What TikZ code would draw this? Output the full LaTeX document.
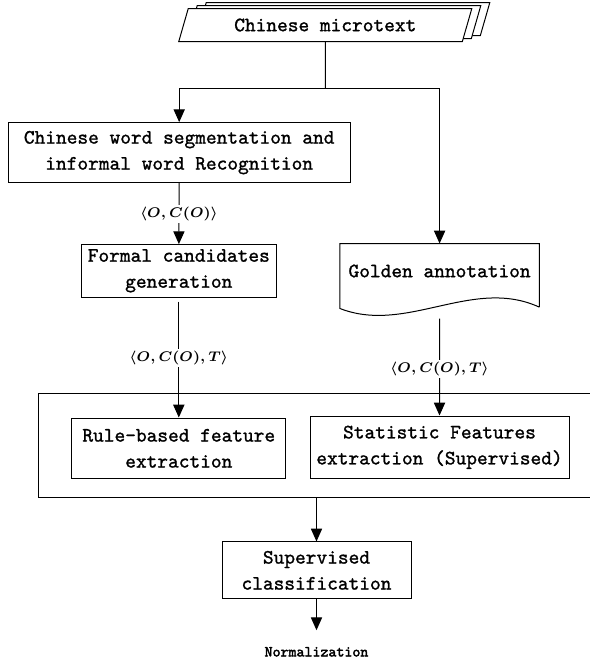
\documentclass[tikz,border=0pt]{standalone}
\usepackage{amsmath}
\usepackage{fontspec}
\usetikzlibrary{arrows.meta,shapes.geometric,shadows,calc}

\newfontfamily\boxfont{lmmono10-regular.otf}[FakeBold=1.2]
\newfontfamily\normfont{lmmono10-regular.otf}[FakeBold=2.5]

\tikzset{
  box/.style={draw, rectangle, align=center, inner sep=0pt,
    font=\boxfont\fontsize{10.2}{13}\selectfont},
  lbl/.style={fill=white, inner sep=1pt, font=\boldmath\fontsize{7.5}{9}\selectfont},
  flow/.style={-{Triangle[length=6.4pt,width=5.6pt]}},
}

\begin{document}
\begin{tikzpicture}[x=0.5pt, y=-0.5pt, line width=0.5pt]
    \useasboundingbox (0,0) rectangle (590,666);
    \node[box, fill=white, trapezium, trapezium left angle=64, trapezium right angle=116,
        trapezium stretches=true, minimum width=147.7pt, minimum height=16.5pt,
        double copy shadow={shadow xshift=4.5pt, shadow yshift=1.5pt}] (src) at (325.3,25) {Chinese microtext};
    \coordinate (split) at (325.3,88.3);
    \node[box, minimum width=170.85pt, minimum height=29.95pt] (seg) at (179.2,152.6) {Chinese word segmentation and\\informal word Recognition};
    \node[box, minimum width=97.75pt, minimum height=26.2pt] (gen) at (178.8,270.8) {Formal candidates\\generation};
    \node[box, draw=none, minimum width=99.15pt, minimum height=27pt] (gold) at (439.6,271) {Golden annotation};
    \draw ($(gold.south east)+(0,8.6)$) -- (gold.north east) -- (gold.north west) -- ($(gold.south west)+(0,10)$)
        .. controls ($(gold.south)+(-33,36)$) and ($(gold.south)+(33,-22)$) .. ($(gold.south east)+(0,8.6)$);
    \node[draw, minimum width=278.6pt, minimum height=52.05pt] (feat) at (317.4,445.65) {};
    \node[box, minimum width=106.85pt, minimum height=30.3pt] (rule) at (178.8,448.3) {Rule-based feature\\extraction};
    \node[box, minimum width=129.5pt, minimum height=31.3pt] (stat) at (439.5,447.3) {Statistic Features\\extraction (Supervised)};
    \node[box, minimum width=94.5pt, minimum height=28.35pt] (sup) at (316.5,570.3) {Supervised\\classification};
    \node[inner sep=0pt, font=\normfont\fontsize{7.6}{9}\selectfont] (norm) at (316.5,651.8) {Normalization};

    \draw (src) -- (split);
    \draw[flow] (split) -| (seg);
    \draw[flow] (split) -| (gold);
    \draw[flow] (seg) -- node[lbl]{$\langle O, C(O)\rangle$} (gen);
    \draw[flow, shorten <=2pt] (gen) -- node[lbl]{$\langle O, C(O), T\rangle$} (rule);
    \draw[flow, shorten <=10pt] (gold.south) -- node[lbl, pos=0.6]{$\langle O, C(O), T\rangle$} (stat);
    \draw[flow] (feat.south -| sup.north) -- (sup);
    \draw[flow, shorten >=8.2pt] (sup) -- (norm);
\end{tikzpicture}
\end{document}
